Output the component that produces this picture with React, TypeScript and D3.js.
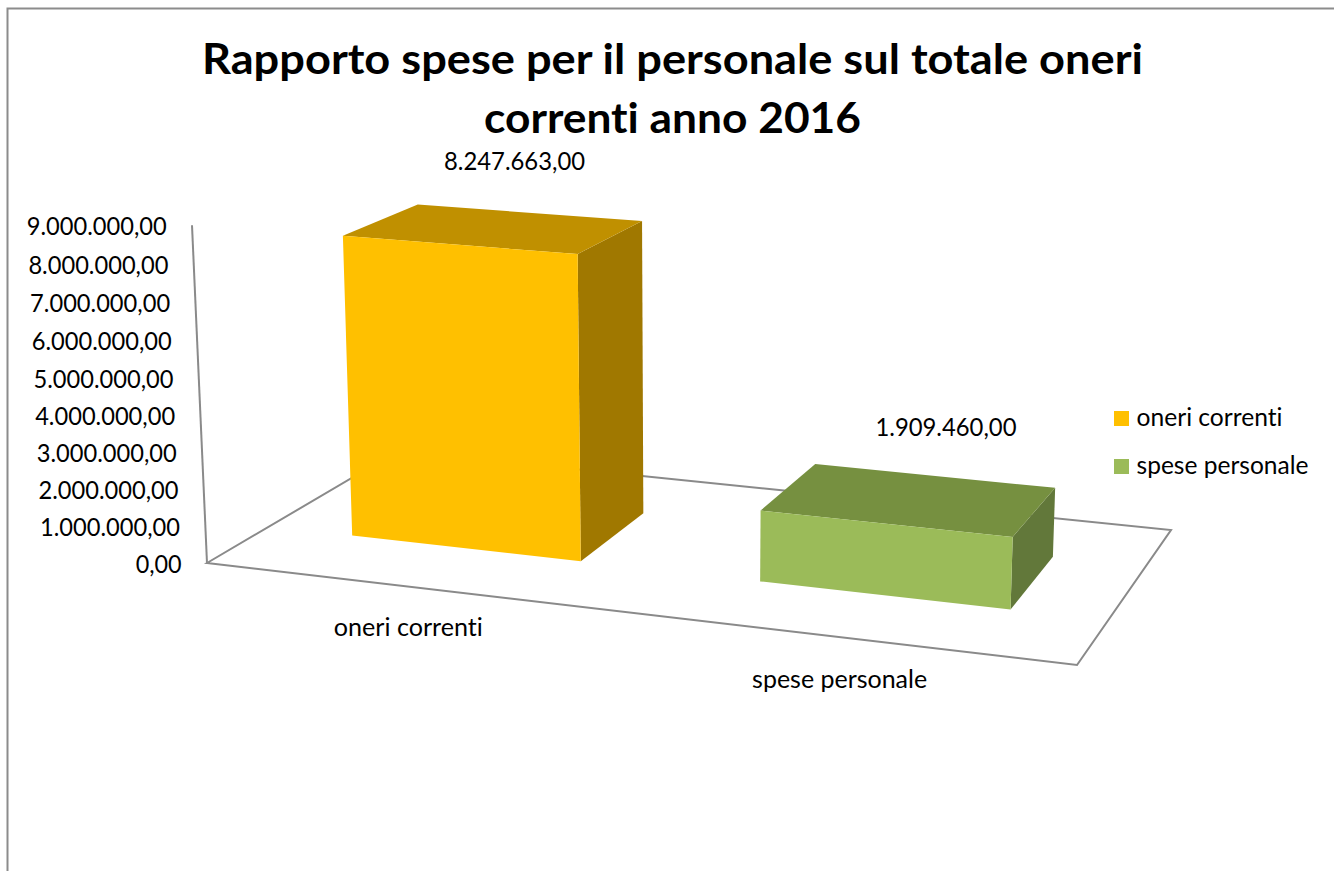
import React from "react";
import * as d3 from "d3";

// Chart content
const titleLines = ["Rapporto spese per il personale sul totale oneri", "correnti anno 2016"];
const categories = ["oneri correnti", "spese personale"];
const values = [8247663, 1909460];
const axisMax = 9000000;
const axisTickCount = 9;

// Face colours per category: front, top, side
const frontColors = ["#FFC000", "#9BBB59"];
const topColors = ["#C09000", "#769040"];
const sideColors = ["#A07800", "#62783A"];

const FONT = "Lato, 'Open Sans', sans-serif";
const WIDTH = 1334;
const HEIGHT = 871;

// Perspective camera: floor homography plus a height column.
// u runs along the category axis, v runs into the depth, z is the normalised value.
const cam = {
  a: 772.19, b: 244.65, c: 207,
  d: 41.6, e: -50.69, f: 563,
  g: -0.09082, h: 0.13594,
  pw: -0.03, px: -20.76, py: -344.5,
};

function project(u: number, v: number, z: number): [number, number] {
  const w = cam.g * u + cam.h * v + 1 + z * cam.pw;
  return [
    (cam.a * u + cam.b * v + cam.c + z * cam.px) / w,
    (cam.d * u + cam.e * v + cam.f + z * cam.py) / w,
  ];
}

const zScale = d3.scaleLinear().domain([0, axisMax]).range([0, 1]);
const uScale = d3.scaleBand<string>().domain(categories).range([0, 1]).paddingInner(0.4286).paddingOuter(0.2143);
const depthNear = 0.3;
const depthFar = 0.7;

const itLocale = d3.formatLocale({ decimal: ",", thousands: ".", grouping: [3], currency: ["", "€"] });
const fmt = itLocale.format(",.2f");

const polygon = d3.line<[number, number]>().x((p) => p[0]).y((p) => p[1]);
const closed = (pts: [number, number][]) => polygon(pts) + "Z";

const AXIS_STROKE = "#8a8a8a";
const AXIS_WIDTH = 2;

// Pixel tweaks for label placement relative to the projected anchor
const valueLabelNudge: [number, number][] = [[20, -67], [36, -72]];
const categoryLabelNudge: [number, number][] = [[-1, 41], [-4, 42]];
const valueLabelWidth = 141;
const tickLabelWidth = (s: string) => (s.length > 6 ? 140 : 46);
const categoryWidths = [149, 175];
const legendWidths = [146, 172];
const legendRows = [418, 466];

function Label(props: { x: number; y: number; w: number; anchor?: string; size?: number; bold?: boolean; children: string }) {
  const { x, y, w, anchor = "middle", size = 25, bold = false, children } = props;
  return (
    <text
      x={x}
      y={y}
      dy="0.35em"
      textAnchor={anchor}
      textLength={w}
      lengthAdjust="spacingAndGlyphs"
      fontFamily={FONT}
      fontSize={size}
      fontWeight={bold ? 700 : 400}
      fill="#000"
      style={{ fontVariantLigatures: "none" }}
    >
      {children}
    </text>
  );
}

export default function App() {
  const floor: [number, number][] = [project(0, 0, 0), project(1, 0, 0), project(1, 1, 0), project(0, 1, 0)];
  const axisTop = project(0, 0, 1);
  const axisBase = project(0, 0, 0);
  const ticks = zScale.ticks(axisTickCount);

  return (
    <svg
      width={WIDTH}
      height={HEIGHT}
      viewBox={`0 0 ${WIDTH} ${HEIGHT}`}
      style={{ position: "absolute", left: 0, top: 0, display: "block", background: "#fff" }}
    >
      {/* Chart frame, open on the right and bottom where it runs off the page */}
      <path d={`M7.5,${HEIGHT}V8.5H${WIDTH}`} fill="none" stroke="#8c8c8c" strokeWidth={2} />

      {/* Title */}
      <Label x={672.5} y={59.5} w={941} size={42} bold>{titleLines[0]}</Label>
      <Label x={672.5} y={118} w={377} size={42} bold>{titleLines[1]}</Label>

      {/* Floor and value axis */}
      <path d={closed(floor)} fill="none" stroke={AXIS_STROKE} strokeWidth={AXIS_WIDTH} />
      <path d={polygon([axisBase, axisTop]) as string} fill="none" stroke={AXIS_STROKE} strokeWidth={AXIS_WIDTH} />

      {/* Value axis labels follow the leaning axis */}
      {ticks.map((t) => {
        const [x, y] = project(0, 0, zScale(t));
        const s = fmt(t);
        return (
          <Label key={t} x={x - 25.3} y={y + 1} w={tickLabelWidth(s)} anchor="end">{s}</Label>
        );
      })}

      {/* Columns */}
      {categories.map((cat, i) => {
        const u0 = uScale(cat) as number;
        const u1 = u0 + uScale.bandwidth();
        const z = zScale(values[i]);
        const fbl = project(u0, depthNear, 0);
        const fbr = project(u1, depthNear, 0);
        const bbr = project(u1, depthFar, 0);
        const ftl = project(u0, depthNear, z);
        const ftr = project(u1, depthNear, z);
        const btr = project(u1, depthFar, z);
        const btl = project(u0, depthFar, z);
        return (
          <g key={cat}>
            <path d={closed([fbr, bbr, btr, ftr])} fill={sideColors[i]} />
            <path d={closed([ftl, ftr, btr, btl])} fill={topColors[i]} />
            <path d={closed([fbl, fbr, ftr, ftl])} fill={frontColors[i]} />
          </g>
        );
      })}

      {/* Value labels above the columns */}
      {categories.map((cat, i) => {
        const um = (uScale(cat) as number) + uScale.bandwidth() / 2;
        const [x, y] = project(um, 0.5, zScale(values[i]));
        return (
          <Label key={cat} x={x + valueLabelNudge[i][0]} y={y + valueLabelNudge[i][1]} w={valueLabelWidth}>
            {fmt(values[i])}
          </Label>
        );
      })}

      {/* Category labels in front of the floor */}
      {categories.map((cat, i) => {
        const um = (uScale(cat) as number) + uScale.bandwidth() / 2;
        const [x, y] = project(um, 0, 0);
        return (
          <Label key={cat} x={x + categoryLabelNudge[i][0]} y={y + categoryLabelNudge[i][1]} w={categoryWidths[i]}>
            {cat}
          </Label>
        );
      })}

      {/* Legend */}
      {categories.map((cat, i) => (
        <g key={cat}>
          <rect x={1114} y={legendRows[i] - 7} width={15} height={15} fill={frontColors[i]} />
          <Label x={1136.5} y={legendRows[i] - 0.5} w={legendWidths[i]} anchor="start">{cat}</Label>
        </g>
      ))}
    </svg>
  );
}
